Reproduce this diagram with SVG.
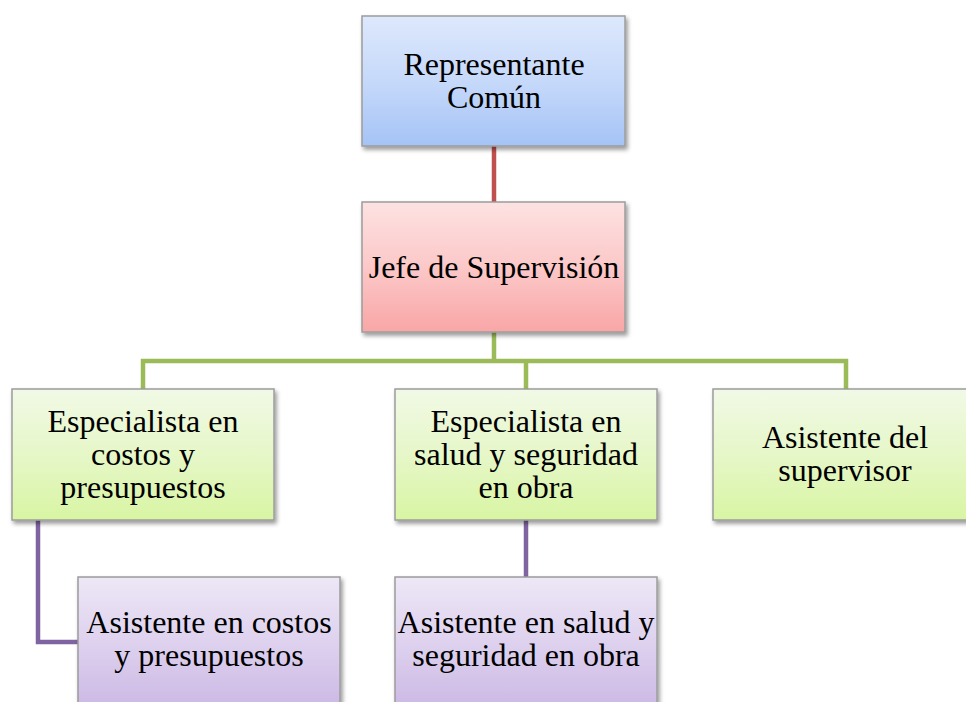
<svg xmlns="http://www.w3.org/2000/svg" width="966" height="702" viewBox="0 0 966 702">
<defs>
<linearGradient id="gBlue" x1="0" y1="0" x2="0" y2="1"><stop offset="0" stop-color="#dde8fc"/><stop offset="0.5" stop-color="#c6d9fa"/><stop offset="1" stop-color="#a5c3f6"/></linearGradient>
<linearGradient id="gRed" x1="0" y1="0" x2="0" y2="1"><stop offset="0" stop-color="#fde2e2"/><stop offset="0.5" stop-color="#fcc8c8"/><stop offset="1" stop-color="#f9a6a6"/></linearGradient>
<linearGradient id="gGreen" x1="0" y1="0" x2="0" y2="1"><stop offset="0" stop-color="#f1f9e6"/><stop offset="0.5" stop-color="#e6f7c8"/><stop offset="1" stop-color="#d8f5a3"/></linearGradient>
<linearGradient id="gPurple" x1="0" y1="0" x2="0" y2="1"><stop offset="0" stop-color="#ede7f6"/><stop offset="0.5" stop-color="#ddd0ee"/><stop offset="1" stop-color="#c9b5e3"/></linearGradient>
<filter id="sh" x="-10%" y="-10%" width="125%" height="130%"><feDropShadow dx="2" dy="3" stdDeviation="2" flood-color="#000" flood-opacity="0.4"/></filter>
</defs>
<style>
.box{stroke:#9c9c9c;stroke-width:1.5;filter:url(#sh)}
.t{font-family:"Liberation Serif","Times New Roman","DejaVu Serif",serif;font-size:32px;fill:#000;text-anchor:middle}
.c{fill:none;stroke-width:4.5;stroke-linejoin:miter}
</style>
<rect width="966" height="702" fill="#fff"/>
<g id="connectors">
<path class="c" stroke="#c0504d" d="M494 146 V202"/>
<path class="c" stroke="#9bbb59" d="M494 332 V361 M143 389 V361 H846 V389 M526 361 V389"/>
<path class="c" stroke="#8064a2" d="M38 520 V642 H78 M526 520 V577"/>
</g>
<g id="representante">
<rect class="box" x="362" y="16" width="263" height="130" fill="url(#gBlue)"/>
<text class="t" x="494" y="75">Representante</text>
<text class="t" x="494" y="108">Común</text>
</g>
<g id="jefe">
<rect class="box" x="362" y="202" width="263" height="130" fill="url(#gRed)"/>
<text class="t" x="494" y="278">Jefe de Supervisión</text>
</g>
<g id="esp-costos">
<rect class="box" x="12" y="389" width="262" height="131" fill="url(#gGreen)"/>
<text class="t" x="143" y="432">Especialista en</text>
<text class="t" x="143" y="465">costos y</text>
<text class="t" x="143" y="498">presupuestos</text>
</g>
<g id="esp-salud">
<rect class="box" x="395" y="389" width="262" height="131" fill="url(#gGreen)"/>
<text class="t" x="526" y="432">Especialista en</text>
<text class="t" x="526" y="465">salud y seguridad</text>
<text class="t" x="526" y="498">en obra</text>
</g>
<g id="asist-supervisor">
<rect class="box" x="713" y="389" width="263" height="131" fill="url(#gGreen)"/>
<text class="t" x="845" y="448">Asistente del</text>
<text class="t" x="845" y="481">supervisor</text>
</g>
<g id="asist-costos">
<rect class="box" x="78" y="577" width="262" height="140" fill="url(#gPurple)"/>
<text class="t" x="209" y="633">Asistente en costos</text>
<text class="t" x="209" y="666">y presupuestos</text>
</g>
<g id="asist-salud">
<rect class="box" x="395" y="577" width="262" height="140" fill="url(#gPurple)"/>
<text class="t" x="526" y="633">Asistente en salud y</text>
<text class="t" x="526" y="666">seguridad en obra</text>
</g>
</svg>
